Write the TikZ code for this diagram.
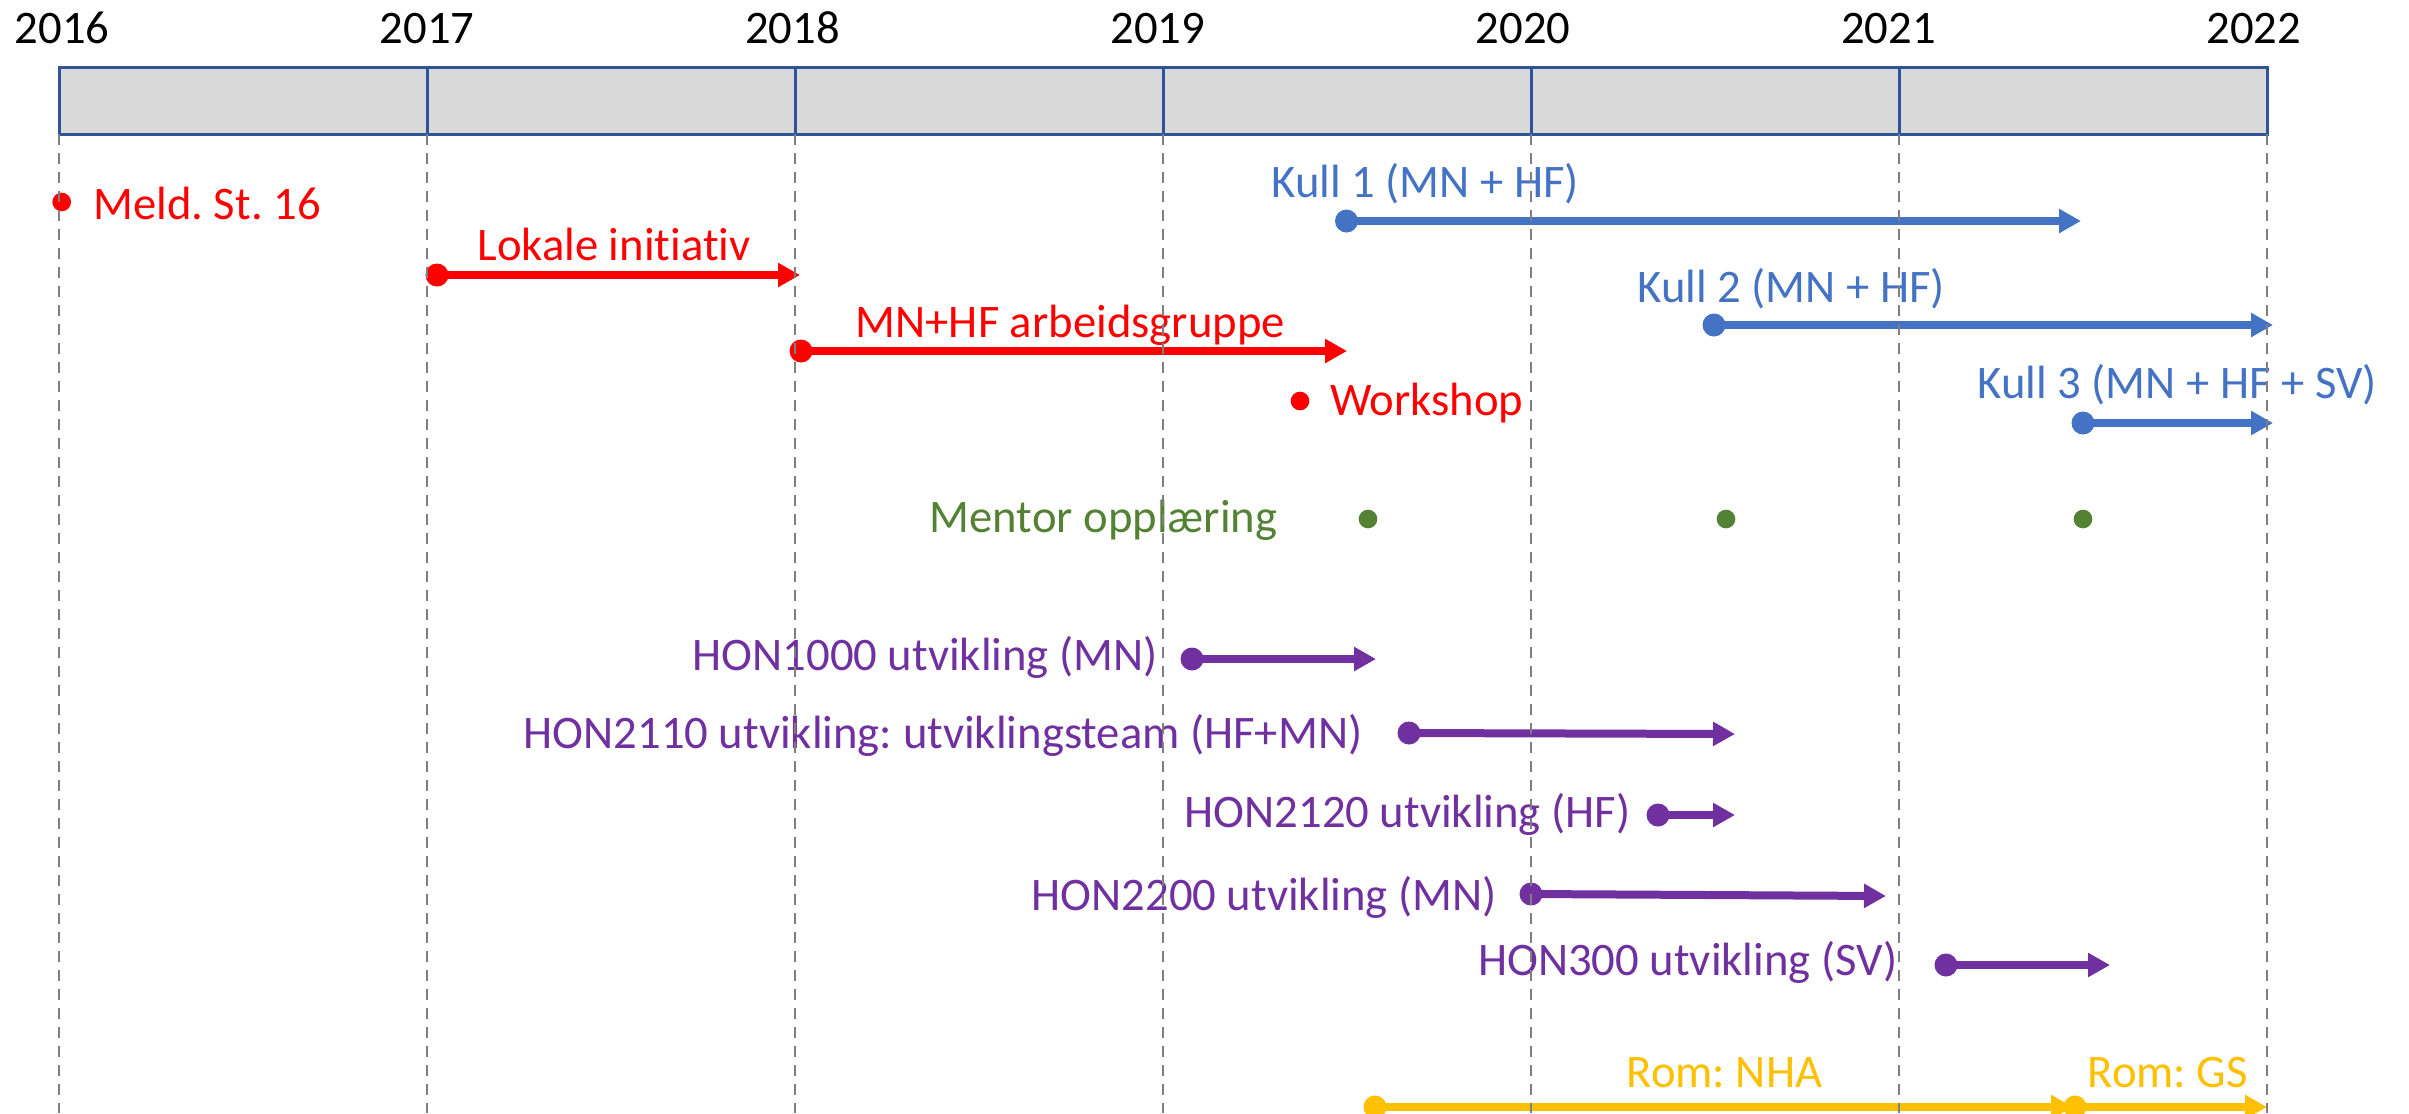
\documentclass[tikz,border=0pt]{standalone}
\usepackage{fontspec}
\setmainfont{Carlito}[Ligatures=NoCommon]
\frenchspacing
\usetikzlibrary{arrows.meta}
\definecolor{cred}{HTML}{FF0000}
\definecolor{cblue}{HTML}{4472C4}
\definecolor{cgreen}{HTML}{548235}
\definecolor{cpurple}{HTML}{7030A0}
\definecolor{cyellow}{HTML}{FFC000}
\definecolor{gridgray}{HTML}{7F7F7F}
\definecolor{barfill}{HTML}{D9D9D9}
\definecolor{barline}{HTML}{2F5597}
\tikzset{
  every node/.style={font=\fontsize{14}{16.8}\selectfont},
  lblw/.style={inner sep=0pt, anchor=base west},
  lblc/.style={inner sep=0pt, anchor=base},
  evdot/.style={circle, inner sep=0pt, minimum size=5.6pt, draw=none},
  bigdot/.style={circle, inner sep=0pt, minimum size=6.9pt, draw=none},
  bararrow/.style={line width=2.4pt, -{Triangle[length=6.6pt,width=6.9pt]}},
  gridline/.style={draw=gridgray, line width=0.6pt, dash pattern=on 3.3pt off 2.4pt},
  yearbar/.style={draw=barline, line width=0.9pt, fill=barfill},
}
\begin{document}
\begin{tikzpicture}[x=0.3pt,y=-0.3pt]
\clip (0,0) rectangle (2409,1113);
\fill[white] (0,0) rectangle (2409,1113);

% year bar
\draw[yearbar] (59,67) rectangle (2267,134);
\foreach \i in {1,...,5}
  \draw[draw=barline, line width=0.9pt] ({59+368*\i},67) -- ({59+368*\i},134);

% year labels
\foreach \i/\yr in {0/2016,1/2017,2/2018,3/2019,4/2020,5/2021,6/2022}
  \node[lblc] (y\yr) at ({62+365.3*\i},43) {\yr};

% red items
\node[evdot, fill=cred] (meld) at (61.7,202) {};
\node[lblw, text=cred] (meldlbl) at (92.7,219) {Meld. St. 16};

\node[bigdot, fill=cred] (lok) at (437,275) {};
\coordinate (lokend) at (800,275);
\draw[bararrow, cred] (lok.center) -- (lokend);
\node[lblc, text=cred] (loklbl) at (614,260) {Lokale initiativ};

\node[bigdot, fill=cred] (arb) at (801,351) {};
\coordinate (arbend) at (1347,351);
\draw[bararrow, cred] (arb.center) -- (arbend);
\node[lblw, text=cred] (arblbl) at (855,337) {MN+HF arbeidsgruppe};

\node[evdot, fill=cred] (work) at (1300,401) {};
\node[lblw, text=cred] (worklbl) at (1329.5,415) {Workshop};

% blue items
\node[bigdot, fill=cblue] (k1) at (1346.5,221) {};
\coordinate (k1end) at (2081,221);
\draw[bararrow, cblue] (k1.center) -- (k1end);
\node[lblw, text=cblue] (k1lbl) at (1271,197) {Kull 1 (MN + HF)};

\node[bigdot, fill=cblue] (k2) at (1714,325) {};
\coordinate (k2end) at (2273,325);
\draw[bararrow, cblue] (k2.center) -- (k2end);
\node[lblw, text=cblue] (k2lbl) at (1637,302) {Kull 2 (MN + HF)};

\node[bigdot, fill=cblue] (k3) at (2083,423) {};
\coordinate (k3end) at (2273,423);
\draw[bararrow, cblue] (k3.center) -- (k3end);
\node[lblw, text=cblue] (k3lbl) at (1977,398) {Kull 3 (MN + HF + SV)};

% green items
\node[lblw, text=cgreen] (mentor) at (929,532) {Mentor oppl\ae ring};
\node[evdot, fill=cgreen] (m1) at (1368,519) {};
\node[evdot, fill=cgreen] (m2) at (1726,519) {};
\node[evdot, fill=cgreen] (m3) at (2083,519) {};

% purple items
\node[lblw, text=cpurple] (h1000lbl) at (692,670) {HON1000 utvikling (MN)};
\node[bigdot, fill=cpurple] (h1000) at (1192,659) {};
\coordinate (h1000end) at (1376,659);
\draw[bararrow, cpurple] (h1000.center) -- (h1000end);

\node[lblw, text=cpurple] (h2110lbl) at (523,748) {HON2110 utvikling: utviklingsteam (HF+MN)};
\node[bigdot, fill=cpurple] (h2110) at (1409,733) {};
\coordinate (h2110end) at (1735,734);
\draw[bararrow, cpurple] (h2110.center) -- (h2110end);

\node[lblw, text=cpurple] (h2120lbl) at (1184,827) {HON2120 utvikling (HF)};
\node[bigdot, fill=cpurple] (h2120) at (1658,815) {};
\coordinate (h2120end) at (1735,815);
\draw[bararrow, cpurple] (h2120.center) -- (h2120end);

\node[lblw, text=cpurple] (h2200lbl) at (1031,910) {HON2200 utvikling (MN)};
\node[bigdot, fill=cpurple] (h2200) at (1531,894) {};
\coordinate (h2200end) at (1886,896);
\draw[bararrow, cpurple] (h2200.center) -- (h2200end);

\node[lblw, text=cpurple] (h300lbl) at (1477.5,975) {HON300 utvikling (SV)};
\node[bigdot, fill=cpurple] (h300) at (1946,965) {};
\coordinate (h300end) at (2110,965);
\draw[bararrow, cpurple] (h300.center) -- (h300end);

% yellow items
\node[bigdot, fill=cyellow] (nha) at (1375,1107) {};
\coordinate (nhaend) at (2073,1107);
\draw[bararrow, cyellow] (nha.center) -- (nhaend);
\node[lblw, text=cyellow] (nhalbl) at (1626,1087) {Rom: NHA};

\node[bigdot, fill=cyellow] (gs) at (2075,1107) {};
\coordinate (gsend) at (2267,1107);
\draw[bararrow, cyellow] (gs.center) -- (gsend);
\node[lblw, text=cyellow] (gslbl) at (2087,1087) {Rom: GS};

% dashed year lines
\foreach \i in {0,...,6}
  \draw[gridline] ({59+368*\i},134) -- ({59+368*\i},1113);
\end{tikzpicture}
\end{document}
